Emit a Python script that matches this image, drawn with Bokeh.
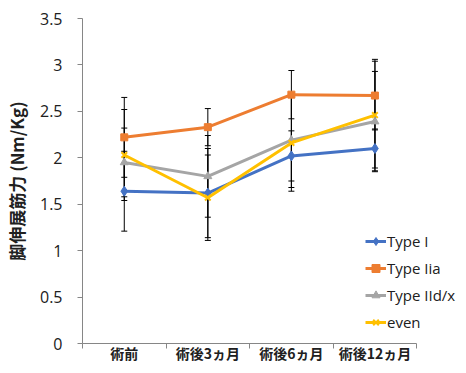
from bokeh.plotting import figure
from bokeh.models import (ColumnDataSource, Range1d, FixedTicker, Legend, LegendItem,
                          Whisker, TeeHead)
from bokeh.embed import file_html
from bokeh.resources import INLINE

categories = ["術前", "術後3ヵ月", "術後6ヵ月", "術後12ヵ月"]
x_pos = [0.5, 1.5, 2.5, 3.5]

type1 = [1.64, 1.62, 2.02, 2.10]
type1_err = [0.43, 0.48, 0.27, 0.21]
type2a = [2.22, 2.33, 2.68, 2.67]
type2a_err = [0.43, 0.20, 0.26, 0.37]
type2dx = [1.95, 1.80, 2.19, 2.39]
type2dx_err = [0.37, 0.44, 0.51, 0.54]
even = [2.03, 1.57, 2.16, 2.46]
even_err = [0.49, 0.46, 0.52, 0.60]

series = [
    ("Type I", type1, type1_err, "#4472C4", "diamond", 10),
    ("Type Iia", type2a, type2a_err, "#ED7D31", "square", 7),
    ("Type IId/x", type2dx, type2dx_err, "#A5A5A5", "triangle", 8),
    ("even", even, even_err, "#FFC000", "x", 8),
]

p = figure(width=458, height=365, output_backend="svg", toolbar_location=None,
           x_range=Range1d(0, 4.50), y_range=Range1d(0, 3.5),
           min_border_left=74, min_border_top=18, min_border_right=0, min_border_bottom=0)
p.outline_line_color = None
p.xgrid.visible = False
p.ygrid.visible = False

# error bars
for name, vals, errs, color, marker, size in series:
    src = ColumnDataSource(dict(x=x_pos,
                                upper=[v + e for v, e in zip(vals, errs)],
                                lower=[v - e for v, e in zip(vals, errs)]))
    w = Whisker(base="x", upper="upper", lower="lower", source=src,
                line_color="black", line_width=1,
                upper_head=TeeHead(size=6, line_color="black", line_width=1),
                lower_head=TeeHead(size=6, line_color="black", line_width=1))
    p.add_layout(w)

items = []
for name, vals, errs, color, marker, size in series:
    src = ColumnDataSource(dict(x=x_pos, y=vals))
    ln = p.line("x", "y", source=src, line_color=color, line_width=3)
    if marker == "x":
        mk = p.scatter("x", "y", source=src, marker=marker, size=size,
                       line_color=color, line_width=2)
    else:
        mk = p.scatter("x", "y", source=src, marker=marker, size=size,
                       fill_color=color, line_color=color)
    items.append(LegendItem(label=name, renderers=[ln, mk]))

legend = Legend(items=items, location=(283, 11), border_line_alpha=0,
                background_fill_alpha=0, padding=0, margin=0, glyph_width=21,
                glyph_height=20, spacing=7, label_standoff=1,
                label_text_font="Open Sans", label_text_font_size="15px",
                label_text_color="#202020")
p.add_layout(legend)

# y axis
p.yaxis.ticker = FixedTicker(ticks=[0, 0.5, 1, 1.5, 2, 2.5, 3, 3.5])
p.yaxis.major_label_overrides = {0: "0", 1: "1", 2: "2", 3: "3"}
p.yaxis.axis_line_color = "#868686"
p.yaxis.major_tick_line_color = "#868686"
p.yaxis.major_tick_out = 5
p.yaxis.major_tick_in = 0
p.yaxis.minor_tick_line_color = None
p.yaxis.major_label_text_font = "Open Sans"
p.yaxis.major_label_text_font_size = "16px"
p.yaxis.major_label_text_color = "#202020"
p.yaxis.major_label_standoff = 15
p.yaxis.axis_label = "脚伸展筋力 (Nm/Kg)"
p.yaxis.axis_label_text_font = "Noto Sans CJK JP"
p.yaxis.axis_label_text_font_style = "bold"
p.yaxis.axis_label_text_font_size = "17px"
p.yaxis.axis_label_text_color = "#202020"
p.yaxis.axis_label_standoff = 8

# x axis
p.xaxis.bounds = (0, 4)
p.xaxis.ticker = FixedTicker(ticks=x_pos, minor_ticks=[0, 1, 2, 3, 4])
p.xaxis.major_label_overrides = {x: c for x, c in zip(x_pos, categories)}
p.xaxis.axis_line_color = "#868686"
p.xaxis.major_tick_line_color = None
p.xaxis.major_tick_out = 0
p.xaxis.major_tick_in = 0
p.xaxis.minor_tick_line_color = "#868686"
p.xaxis.minor_tick_out = 5
p.xaxis.minor_tick_in = 0
p.xaxis.major_label_text_font = "Noto Sans CJK JP"
p.xaxis.major_label_text_font_style = "bold"
p.xaxis.major_label_text_font_size = "14px"
p.xaxis.major_label_text_color = "#202020"
p.xaxis.major_label_standoff = -6

open("out.html", "w").write(file_html(p, INLINE))
